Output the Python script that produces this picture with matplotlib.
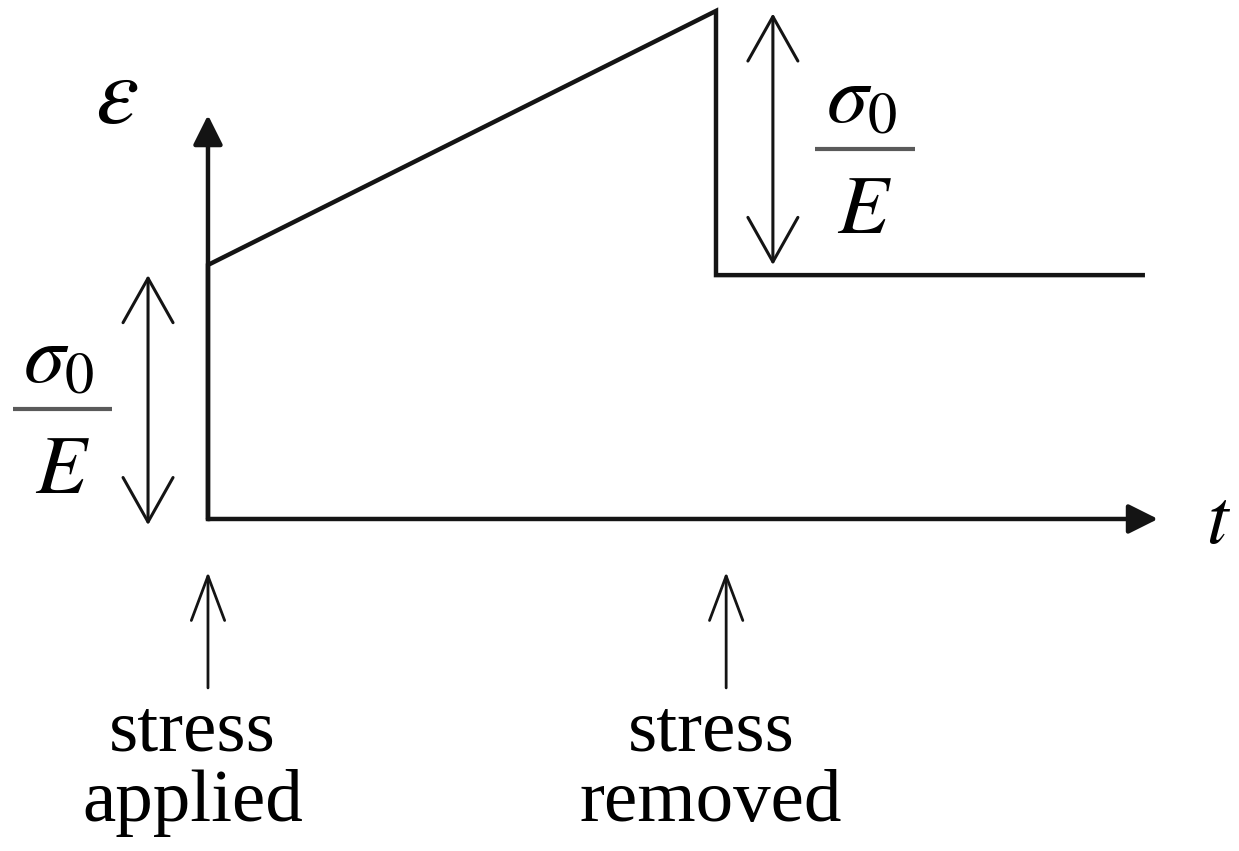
import matplotlib.pyplot as plt

plt.rcParams["font.family"] = ["Liberation Serif", "DejaVu Serif"]
plt.rcParams["mathtext.fontset"] = "stix"

# strain response: elastic jump, creep, elastic recovery, permanent set
t_curve = [0.0, 0.0, 1.0, 1.0, 1.84]
eps_curve = [0.0, 1.0, 2.0, 0.96, 0.96]

# axes extents (arrow tips)
t_axis_end = 1.87
eps_axis_end = 1.59

# elastic strain markers (sigma0 / E)
elastic_t = [-0.118, 1.112]
elastic_lo = [-0.024, 1.0]
elastic_hi = [0.96, 1.99]
frac_t = [-0.286, 1.293]
frac_eps = [0.433, 1.457]

# event markers
event_t = [0.0, 1.02]
event_lo = -0.665
event_hi = -0.209
event_text_t = [-0.03, 0.99]
event_labels = ["stress\napplied", "stress\nremoved"]

ink = "#141414"

fig = plt.figure(figsize=(12.39, 8.51), dpi=100)
ax = fig.add_axes([0, 0, 1, 1])
ax.set_xlim(-0.4094, 2.0295)
ax.set_ylim(-1.307, 2.043)
ax.axis("off")

# axes with filled arrow heads
axis_style = dict(arrowstyle="-|>,head_length=18,head_width=9", color=ink,
                  lw=3.2, shrinkA=0, shrinkB=0, mutation_scale=1)
ax.annotate("", xy=(t_axis_end, 0), xytext=(0, 0), arrowprops=axis_style)
ax.annotate("", xy=(0, eps_axis_end), xytext=(0, 0), arrowprops=axis_style)

ax.plot(t_curve, eps_curve, color=ink, lw=3.2, solid_joinstyle="miter")

ax.text(-0.179, 1.65, r"$\varepsilon$", fontsize=70, ha="center", va="center")
ax.text(1.99, -0.02, r"$t$", fontsize=56, ha="center", va="center")

# double-headed arrows for the elastic part
dbl_style = dict(arrowstyle="<->,head_length=1.6,head_width=0.9", color=ink,
                 lw=2.2, shrinkA=0, shrinkB=0, mutation_scale=20)
bar_half = 0.098
for x, lo, hi, ft, fe in zip(elastic_t, elastic_lo, elastic_hi, frac_t, frac_eps):
    ax.annotate("", xy=(x, hi), xytext=(x, lo), arrowprops=dbl_style)
    # stacked fraction: numerator, bar, denominator
    ax.text(ft - 0.007, fe + 0.035, r"$\sigma_0$", fontsize=60, ha="center", va="bottom")
    ax.plot([ft - bar_half, ft + bar_half], [fe, fe], color="#5a5a5a", lw=3.0,
            solid_capstyle="butt")
    ax.text(ft, fe - 0.105, r"$E$", fontsize=60, ha="center", va="top")

# event arrows and labels
up_style = dict(arrowstyle="->,head_length=1.6,head_width=0.6", color=ink,
                lw=2.0, shrinkA=0, shrinkB=0, mutation_scale=20)
for x, xt, lab in zip(event_t, event_text_t, event_labels):
    ax.annotate("", xy=(x, event_hi), xytext=(x, event_lo), arrowprops=up_style)
    ax.text(xt, -0.71, lab, fontsize=54, ha="center", va="top", linespacing=1.05)

plt.savefig("out.png", dpi=100)
